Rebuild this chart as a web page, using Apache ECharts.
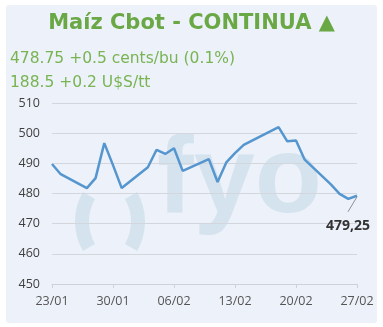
<!DOCTYPE html>
<html><head><meta charset="utf-8">
<script src="https://cdn.jsdelivr.net/npm/echarts@6/dist/echarts.min.js"></script>
<style>html,body{margin:0;padding:0;background:#fff}#c{width:383px;height:327px}</style>
</head><body><div id="c"></div>
<script>
const titleText = 'Maíz Cbot - CONTINUA ▲';
const subLine1 = '478.75 +0.5 cents/bu (0.1%)';
const subLine2 = '188.5 +0.2 U$S/tt';
const dates = ['2025-01-23','2025-01-24','2025-01-27','2025-01-28','2025-01-29','2025-01-30','2025-01-31',
  '2025-02-03','2025-02-04','2025-02-05','2025-02-06','2025-02-07','2025-02-10','2025-02-11','2025-02-12',
  '2025-02-13','2025-02-14','2025-02-18','2025-02-19','2025-02-20','2025-02-21','2025-02-24','2025-02-25',
  '2025-02-26','2025-02-27'];
const prices = [489.8,486.4,481.8,485.1,496.7,489.4,481.8,
  488.7,494.5,493.1,495.0,487.5,491.4,483.8,490.3,
  493.4,496.1,502.0,497.3,497.6,491.2,483.0,479.9,
  478.2,479.25];
const lastLabel = '479,25';
const yTicks = [450,460,470,480,490,500,510];
const xTickLabels = ['23/01','30/01','06/02','13/02','20/02','27/02'];

const chart = echarts.init(document.getElementById('c'), null, {renderer:'canvas'});
const dayMs = 86400000;
const ts = d => Date.parse(d + 'T00:00:00Z');
const t0 = ts(dates[0]);
const data = dates.map((d,i)=>[Math.round((ts(d)-t0)/dayMs), prices[i]]);
const lastIdx = data.length - 1;
const xMax = (xTickLabels.length-1)*7;

const wm = '#d5e3ef';
const baseGraphic = [
  {type:'rect', z:-10, shape:{x:6,y:5,width:371,height:318,r:3}, style:{fill:'#edf1f9'}},
  {type:'text', z:-10, left:10, top:51, style:{text:subLine1, font:'15.5px "DejaVu Sans"', fill:'#78b452'}},
  {type:'text', z:-10, left:10, top:75, style:{text:subLine2, font:'15.5px "DejaVu Sans"', fill:'#78b452'}},
  {type:'arc', z:-5, shape:{cx:134,cy:221.5,r:52,startAngle:Math.PI*(1-1/6),endAngle:Math.PI*(1+1/6)}, style:{stroke:wm,lineWidth:14,fill:null,lineCap:'butt'}},
  {type:'arc', z:-5, shape:{cx:86,cy:221.5,r:52,startAngle:-Math.PI/6,endAngle:Math.PI/6}, style:{stroke:wm,lineWidth:14,fill:null,lineCap:'butt'}},
  {type:'text', z:-5, left:157, top:127, style:{text:'fyo', font:'bold 110px "Liberation Sans"', fill:wm}}
];

chart.setOption({
  backgroundColor: '#ffffff',
  animation: false,
  title: {
    text: titleText, left: 'center', top: 8,
    textStyle: {fontFamily: 'DejaVu Sans', fontWeight: 'bold', fontSize: 21, color: '#6aa846'}
  },
  graphic: baseGraphic,
  grid: {left:52, right:26, top:103, bottom:43},
  xAxis: {
    type:'value', min:0, max:xMax, interval:7,
    axisLine:{show:true, lineStyle:{color:'#ccd2da'}},
    axisTick:{show:true, length:4, lineStyle:{color:'#ccd2da'}},
    splitLine:{show:false},
    axisLabel:{
      fontFamily:'Open Sans', fontSize:12.5, color:'#555', margin:11,
      showMinLabel:true, showMaxLabel:true,
      formatter: v => xTickLabels[Math.round(v/7)] || ''
    }
  },
  yAxis: {
    type:'value', min:yTicks[0], max:yTicks[yTicks.length-1], interval:10,
    axisLine:{show:false}, axisTick:{show:false},
    splitLine:{lineStyle:{color:'#d3d7dd', width:1}},
    axisLabel:{fontFamily:'Open Sans', fontSize:12.5, color:'#404040', margin:12}
  },
  series: [{
    type:'line', data:data, showSymbol:false, symbol:'none',
    lineStyle:{color:'#5596cf', width:2.5},
    z: 3
  }]
});

const p = chart.convertToPixel({gridIndex:0}, data[lastIdx]);
chart.setOption({
  graphic: baseGraphic.concat([
    {type:'line', z:10, shape:{x1:p[0],y1:p[1]+1,x2:p[0]-9,y2:p[1]+16}, style:{stroke:'#8a8f96',lineWidth:1}},
    {type:'text', z:10, x:p[0]-9, y:p[1]+30, style:{text:lastLabel, font:'bold 14px "Open Sans"', fill:'#333', align:'center', verticalAlign:'middle'}}
  ])
});
</script></body></html>
